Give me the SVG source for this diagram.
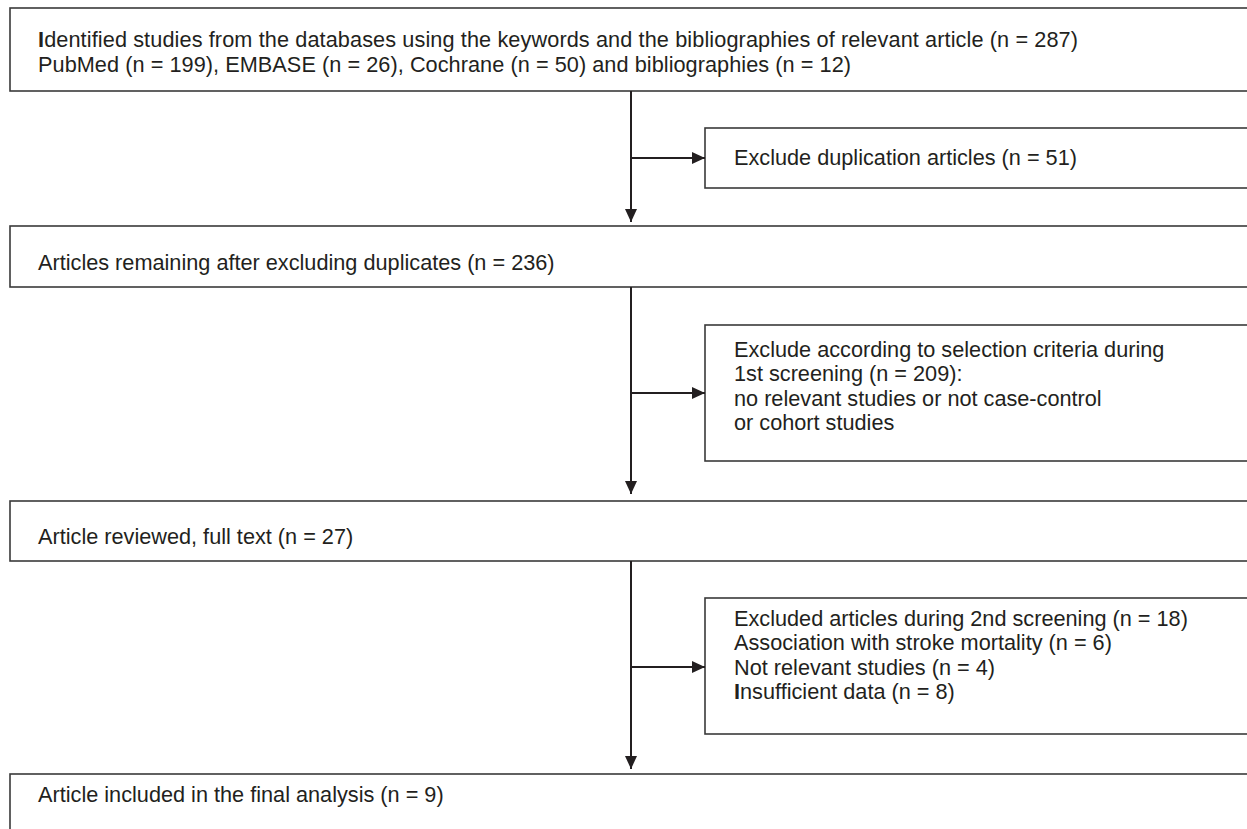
<svg xmlns="http://www.w3.org/2000/svg" width="1247" height="829" viewBox="0 0 1247 829">
<defs>
<style>
.box{fill:#ffffff;stroke:#3a3a3a;stroke-width:1.6}
.t{font-family:"Liberation Sans",Arial,sans-serif;font-size:21.7px;fill:#231f20}
.b{font-weight:bold}
.ln{fill:none;stroke:#231f20;stroke-width:2}
</style>
<marker id="ah" viewBox="0 0 13 12" refX="13" refY="6" markerWidth="13" markerHeight="12" markerUnits="userSpaceOnUse" orient="auto">
<path d="M0,0 L13,6 L0,12 Z" fill="#231f20"/>
</marker>
</defs>
<rect width="1247" height="829" fill="#ffffff"/>
<g id="n1">
<rect class="box" x="10" y="8" width="1260" height="83"/>
<text class="t" x="38" y="47" textLength="1040" lengthAdjust="spacing"><tspan class="b">I</tspan>dentified studies from the databases using the keywords and the bibliographies of relevant article (n = 287)</text>
<text class="t" x="38" y="72" textLength="813" lengthAdjust="spacing">PubMed (n = 199), EMBASE (n = 26), Cochrane (n = 50) and bibliographies (n = 12)</text>
</g>
<g id="n2">
<rect class="box" x="705" y="128" width="560" height="60"/>
<text class="t" x="734" y="165">Exclude duplication articles (n = 51)</text>
</g>
<g id="n3">
<rect class="box" x="10" y="226" width="1260" height="61"/>
<text class="t" x="38" y="270">Articles remaining after excluding duplicates (n = 236)</text>
</g>
<g id="n4">
<rect class="box" x="705" y="325" width="560" height="136"/>
<text class="t" x="734" y="357">Exclude according to selection criteria during</text>
<text class="t" x="734" y="381">1st screening (n = 209):</text>
<text class="t" x="734" y="406">no relevant studies or not case-control</text>
<text class="t" x="734" y="430">or cohort studies</text>
</g>
<g id="n5">
<rect class="box" x="10" y="501" width="1260" height="60"/>
<text class="t" x="38" y="544">Article reviewed, full text (n = 27)</text>
</g>
<g id="n6">
<rect class="box" x="705" y="598" width="560" height="136"/>
<text class="t" x="734" y="626">Excluded articles during 2nd screening (n = 18)</text>
<text class="t" x="734" y="650">Association with stroke mortality (n = 6)</text>
<text class="t" x="734" y="675">Not relevant studies (n = 4)</text>
<text class="t" x="734" y="699"><tspan class="b">I</tspan>nsufficient data (n = 8)</text>
</g>
<g id="n7">
<rect class="box" x="10" y="774" width="1260" height="70"/>
<text class="t" x="38" y="802">Article included in the final analysis (n = 9)</text>
</g>
<g id="connectors">
<line class="ln" x1="631" y1="91" x2="631" y2="222" marker-end="url(#ah)"/>
<line class="ln" x1="631" y1="158" x2="705" y2="158" marker-end="url(#ah)"/>
<line class="ln" x1="631" y1="287" x2="631" y2="494" marker-end="url(#ah)"/>
<line class="ln" x1="631" y1="393" x2="705" y2="393" marker-end="url(#ah)"/>
<line class="ln" x1="631" y1="561" x2="631" y2="769" marker-end="url(#ah)"/>
<line class="ln" x1="631" y1="667" x2="705" y2="667" marker-end="url(#ah)"/>
</g>
</svg>
